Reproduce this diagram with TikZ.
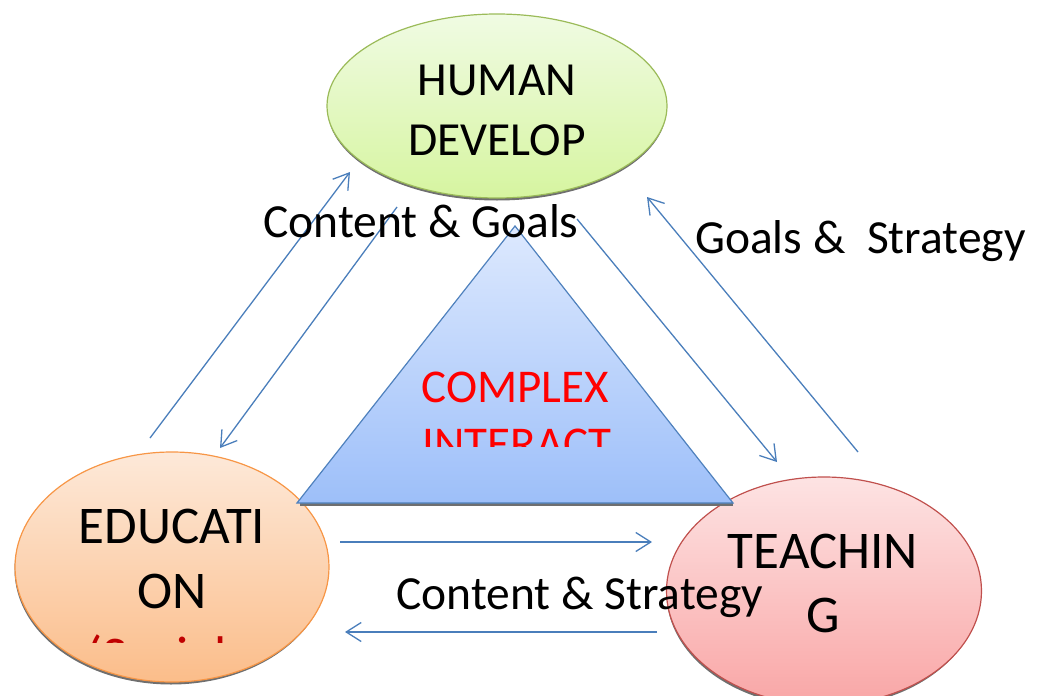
\documentclass[tikz,border=0pt]{standalone}
\usepackage{fontspec}
\setmainfont{Carlito}
\usetikzlibrary{arrows.meta,shapes.geometric}
\definecolor{arrowc}{HTML}{4A7EBB}
\definecolor{greenT}{HTML}{F0FBE3}
\definecolor{greenB}{HTML}{D6F5A0}
\definecolor{greenD}{HTML}{9BBB59}
\definecolor{orangeT}{HTML}{FDE9D9}
\definecolor{orangeB}{HTML}{FBBD8A}
\definecolor{orangeD}{HTML}{F79646}
\definecolor{pinkT}{HTML}{FDE3E3}
\definecolor{pinkB}{HTML}{F9A6A6}
\definecolor{pinkD}{HTML}{C0504D}
\definecolor{blueT}{HTML}{DDE9FE}
\definecolor{blueB}{HTML}{9DBFF9}
\definecolor{blueD}{HTML}{4F81BD}
\definecolor{shadowc}{HTML}{6F6F6F}
\definecolor{darkred}{HTML}{C00000}
\tikzset{
  bubble/.style={ellipse, inner sep=0pt, line width=1.2pt},
  flow/.style={draw=arrowc, line width=1.3pt, -{Straight Barb[length=15pt,width=19pt]}},
  lbl/.style={font=\fontsize{47.5}{57}\selectfont, inner sep=0pt, text=black},
  big/.style={font=\fontsize{53}{65}\selectfont, inner sep=0pt, text=black},
  redtxt/.style={font=\fontsize{47}{57}\selectfont, inner sep=0pt, text=red},
}
\begin{document}
\begin{tikzpicture}[x=1pt,y=-1pt]
\useasboundingbox (0,0) rectangle (1037,696);
% shadows
\fill[shadowc] (497,108.5) ellipse [x radius=169.5, y radius=92];
\fill[shadowc] (171,569.5) ellipse [x radius=156.5, y radius=115];
\fill[shadowc] (823,593.5) ellipse [x radius=156.5, y radius=114];
% ellipses
\node[bubble, minimum width=340pt, minimum height=184pt, draw=greenD, top color=greenT, bottom color=greenB] (hd) at (497,106) {};
\node[bubble, minimum width=314pt, minimum height=230pt, draw=orangeD, top color=orangeT, bottom color=orangeB] (ed) at (172,567) {};
\node[bubble, minimum width=315pt, minimum height=228pt, draw=pinkD, top color=pinkT, bottom color=pinkB] (te) at (824,591) {};
% triangle
\coordinate (tA) at (515,226);
\coordinate (tL) at (297,503);
\coordinate (tR) at (733,503);
\fill[shadowc] (300,502) rectangle (733,505.5);
\draw[blueD, line width=1.2pt, top color=blueT, bottom color=blueB, line join=miter] (tA) -- (tL) -- (tR) -- cycle;
% arrow end points
\coordinate (a1s) at (150,438); \coordinate (a1e) at (350,172);
\coordinate (a2s) at (397,207); \coordinate (a2e) at (220,448);
\coordinate (a3s) at (577,219); \coordinate (a3e) at (777,462);
\coordinate (a4s) at (858,452); \coordinate (a4e) at (647,197);
\coordinate (a5s) at (340,542); \coordinate (a5e) at (652,542);
\coordinate (a6s) at (657,632); \coordinate (a6e) at (345,632);
\draw[flow] (a1s) -- (a1e);
\draw[flow] (a2s) -- (a2e);
\draw[flow] (a3s) -- (a3e);
\draw[flow] (a4s) -- (a4e);
\draw[flow] (a5s) -- (a5e);
\draw[flow] (a6s) -- (a6e);
% node texts
\node[lbl, anchor=base] (hd1) at (497,95) {HUMAN};
\node[lbl, anchor=base] (hd2) at (497,155) {DEVELOP};
\node[big, anchor=base] (ed1) at (172,543) {EDUCATI};
\node[big, anchor=base] (ed2) at (172,608) {ON};
\begin{scope}
\clip (60,600) rectangle (300,642);
\node[big, anchor=base west, text=darkred] (ed3) at (86,673) {(Social};
\end{scope}
\node[big, anchor=base] (te1) at (823,568) {TEACHIN};
\node[big, anchor=base] (te2) at (823,632) {G};
\node[redtxt, anchor=base] (cx1) at (515,402) {COMPLEX};
\begin{scope}
\clip (400,410) rectangle (640,446);
\node[redtxt, anchor=base] (cx2) at (517,459) {INTERACT};
\end{scope}
% connector labels
\node[lbl, anchor=base west] (l1) at (263,237) {Content \& Goals};
\node[lbl, anchor=base west] (l2) at (695,253) {Goals \&\ \ Strategy};
\node[lbl, anchor=base west] (l3) at (396,609) {Content \& Strategy};
\end{tikzpicture}
\end{document}
